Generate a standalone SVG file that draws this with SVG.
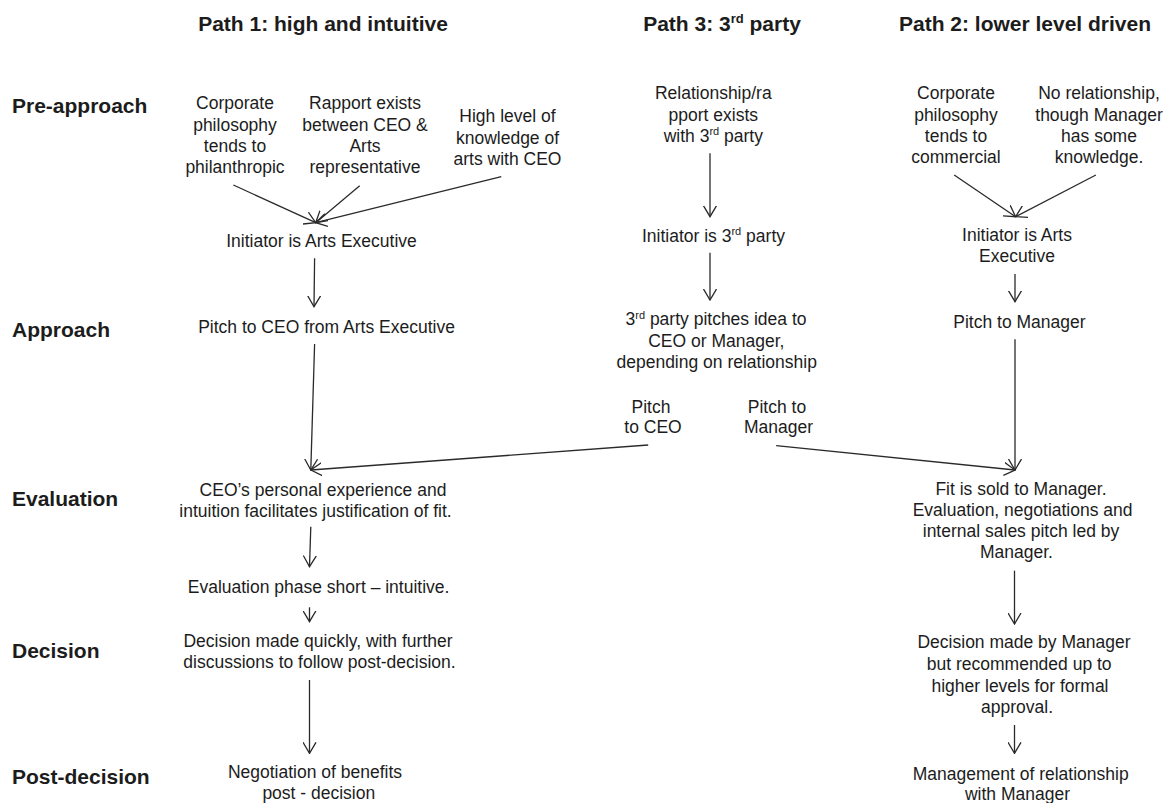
<svg xmlns="http://www.w3.org/2000/svg" width="1174" height="803" viewBox="0 0 1174 803">
  <style>
    .bg { fill: #ffffff; }
    .hd { font-family: "Liberation Sans", Arial, sans-serif; font-weight: bold; font-size: 21px; fill: #1c1c1c; }
    .tx { font-family: "Liberation Sans", Arial, sans-serif; font-size: 17.5px; fill: #1c1c1c; text-anchor: middle; }
    .ttl { text-anchor: middle; }
    .ln { fill: none; stroke: #2a2a2a; stroke-width: 1.3; marker-end: url(#vee); }
  </style>
  <defs>
    <marker id="vee" viewBox="0 0 12 14" refX="11" refY="7" markerWidth="12" markerHeight="14" markerUnits="userSpaceOnUse" orient="auto">
      <path d="M0,0.5 L11,7 L0,13.5" fill="none" stroke="#2a2a2a" stroke-width="1.3"/>
    </marker>
  </defs>
  <rect class="bg" x="0" y="0" width="1174" height="803"/>

  <!-- column headings -->
  <g id="headings">
    <text class="hd ttl" x="323" y="31">Path 1: high and intuitive</text>
    <text class="hd ttl" x="722" y="31">Path 3: 3<tspan font-size="13" dy="-8">rd</tspan><tspan dy="8"> party</tspan></text>
    <text class="hd ttl" x="1025" y="31">Path 2: lower level driven</text>
  </g>

  <!-- stage labels -->
  <g id="stages">
    <text class="hd" x="12" y="113">Pre-approach</text>
    <text class="hd" x="12" y="337">Approach</text>
    <text class="hd" x="12" y="506">Evaluation</text>
    <text class="hd" x="12" y="658">Decision</text>
    <text class="hd" x="12" y="784">Post-decision</text>
  </g>

  <!-- path 1 -->
  <g id="p1-philosophy">
    <text class="tx"><tspan x="235" y="109.3">Corporate</tspan><tspan x="235" y="130.7">philosophy</tspan><tspan x="235" y="151.7">tends to</tspan><tspan x="235" y="172.7">philanthropic</tspan></text>
  </g>
  <g id="p1-rapport">
    <text class="tx"><tspan x="365" y="109.3">Rapport exists</tspan><tspan x="365" y="130.7">between CEO &amp;</tspan><tspan x="365" y="151.7">Arts</tspan><tspan x="365" y="172.7">representative</tspan></text>
  </g>
  <g id="p1-knowledge">
    <text class="tx"><tspan x="507.5" y="122">High level of</tspan><tspan x="507.5" y="143.5">knowledge of</tspan><tspan x="507.5" y="165">arts with CEO</tspan></text>
  </g>
  <g id="p1-initiator">
    <text class="tx" x="321.5" y="247.3">Initiator is Arts Executive</text>
  </g>
  <g id="p1-pitch">
    <text class="tx" x="326.5" y="333.3">Pitch to CEO from Arts Executive</text>
  </g>
  <g id="p1-evaluation">
    <text class="tx"><tspan x="323" y="496">CEO’s personal experience and</tspan><tspan x="315.5" y="516.7">intuition facilitates justification of fit.</tspan></text>
  </g>
  <g id="p1-short">
    <text class="tx" x="318.6" y="592.7">Evaluation phase short – intuitive.</text>
  </g>
  <g id="p1-decision">
    <text class="tx"><tspan x="318" y="647.3">Decision made quickly, with further</tspan><tspan x="319.5" y="668.3">discussions to follow post-decision.</tspan></text>
  </g>
  <g id="p1-post">
    <text class="tx"><tspan x="315" y="778.3">Negotiation of benefits</tspan><tspan x="318.8" y="799.3">post - decision</tspan></text>
  </g>

  <!-- path 3 -->
  <g id="p3-relationship">
    <text class="tx"><tspan x="713.3" y="99.3">Relationship/ra</tspan><tspan x="713.3" y="120.7">pport exists</tspan><tspan x="713.3" y="141.7">with 3<tspan font-size="11" dy="-6.5">rd</tspan><tspan dy="6.5"> party</tspan></tspan></text>
  </g>
  <g id="p3-initiator">
    <text class="tx" x="713.5" y="241.7">Initiator is 3<tspan font-size="11" dy="-6.5">rd</tspan><tspan dy="6.5"> party</tspan></text>
  </g>
  <g id="p3-pitch">
    <text class="tx"><tspan x="716" y="325">3<tspan font-size="11" dy="-6.5">rd</tspan><tspan dy="6.5"> party pitches idea to</tspan></tspan><tspan x="716.3" y="346.7">CEO or Manager,</tspan><tspan x="716.7" y="368.3">depending on relationship</tspan></text>
  </g>
  <g id="p3-to-ceo">
    <text class="tx"><tspan x="651" y="412.7">Pitch</tspan><tspan x="653" y="433.3">to CEO</tspan></text>
  </g>
  <g id="p3-to-manager">
    <text class="tx"><tspan x="777" y="412.7">Pitch to</tspan><tspan x="778.5" y="433.3">Manager</tspan></text>
  </g>

  <!-- path 2 -->
  <g id="p2-philosophy">
    <text class="tx"><tspan x="956" y="99.3">Corporate</tspan><tspan x="956" y="120.7">philosophy</tspan><tspan x="956" y="142.3">tends to</tspan><tspan x="956" y="163.3">commercial</tspan></text>
  </g>
  <g id="p2-no-relationship">
    <text class="tx"><tspan x="1099" y="99.3">No relationship,</tspan><tspan x="1099" y="120.7">though Manager</tspan><tspan x="1099" y="142.3">has some</tspan><tspan x="1099" y="163.3">knowledge.</tspan></text>
  </g>
  <g id="p2-initiator">
    <text class="tx"><tspan x="1017" y="240.7">Initiator is Arts</tspan><tspan x="1017" y="262.3">Executive</tspan></text>
  </g>
  <g id="p2-pitch">
    <text class="tx" x="1019.4" y="328.3">Pitch to Manager</text>
  </g>
  <g id="p2-evaluation">
    <text class="tx"><tspan x="1021" y="495">Fit is sold to Manager.</tspan><tspan x="1022.6" y="516">Evaluation, negotiations and</tspan><tspan x="1021" y="536.7">internal sales pitch led by</tspan><tspan x="1016.4" y="558.3">Manager.</tspan></text>
  </g>
  <g id="p2-decision">
    <text class="tx"><tspan x="1024" y="648.3">Decision made by Manager</tspan><tspan x="1019.2" y="670">but recommended up to</tspan><tspan x="1020" y="691.7">higher levels for formal</tspan><tspan x="1017" y="712.7">approval.</tspan></text>
  </g>
  <g id="p2-post">
    <text class="tx"><tspan x="1020.7" y="780">Management of relationship</tspan><tspan x="1017.5" y="800">with Manager</tspan></text>
  </g>

  <!-- connectors -->
  <g id="connectors">
    <line class="ln" x1="233.4" y1="185" x2="315.7" y2="222.7"/>
    <line class="ln" x1="359.7" y1="185.7" x2="315.7" y2="222.7"/>
    <line class="ln" x1="501.3" y1="176.7" x2="315.7" y2="222.7"/>
    <line class="ln" x1="314.6" y1="258.3" x2="314" y2="306.7"/>
    <line class="ln" x1="314.6" y1="344" x2="310.8" y2="470"/>
    <line class="ln" x1="648.2" y1="445" x2="310.8" y2="470"/>
    <line class="ln" x1="310.8" y1="526.7" x2="309.5" y2="566.7"/>
    <line class="ln" x1="309.5" y1="607.3" x2="309.5" y2="621.7"/>
    <line class="ln" x1="309.5" y1="680" x2="309.5" y2="753.3"/>

    <line class="ln" x1="710" y1="153.3" x2="710" y2="216.7"/>
    <line class="ln" x1="710" y1="252.7" x2="710" y2="300"/>

    <line class="ln" x1="954.2" y1="175" x2="1015.6" y2="216.7"/>
    <line class="ln" x1="1095.9" y1="175" x2="1015.6" y2="216.7"/>
    <line class="ln" x1="1015" y1="274" x2="1015" y2="301.7"/>
    <line class="ln" x1="1015" y1="339.3" x2="1015" y2="470"/>
    <line class="ln" x1="776.2" y1="445.7" x2="1015" y2="470"/>
    <line class="ln" x1="1014.5" y1="570.7" x2="1014.5" y2="624"/>
    <line class="ln" x1="1014.5" y1="725" x2="1014.5" y2="753.3"/>
  </g>
</svg>
